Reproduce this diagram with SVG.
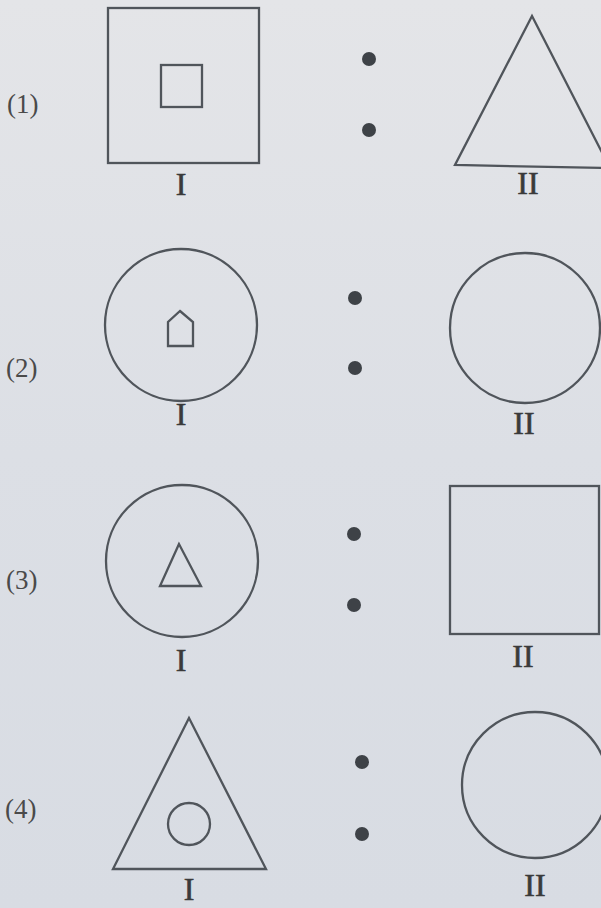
<svg xmlns="http://www.w3.org/2000/svg" width="601" height="908" viewBox="0 0 601 908">
<defs>
<linearGradient id="bg" x1="0" y1="0" x2="0" y2="1">
<stop offset="0" stop-color="#e4e5e8"/>
<stop offset="0.5" stop-color="#dcdfe5"/>
<stop offset="1" stop-color="#d8dce3"/>
</linearGradient>
<style>
.s{fill:none;stroke:#50555b;stroke-width:2.3}
.d{fill:#3e4247}
.n{font-family:"Liberation Serif",serif;font-size:27px;fill:#4a4a4a}
.l{font-family:"Liberation Serif",serif;font-size:32px;fill:#3a3a3a;stroke:#3a3a3a;stroke-width:0.6;text-anchor:middle}
</style>
</defs>
<rect width="601" height="908" fill="url(#bg)"/>
<g id="row1">
<text class="n" x="7" y="113">(1)</text>
<g id="r1-I"><rect class="s" x="108" y="8" width="151" height="155"/><rect class="s" x="161" y="65" width="41" height="42"/><text class="l" x="181" y="195">I</text></g>
<g id="r1-dots"><circle class="d" cx="369" cy="59" r="7"/><circle class="d" cx="369" cy="130" r="7"/></g>
<g id="r1-II"><polygon class="s" points="532,16 455,165 610,168"/><text class="l" x="528" y="194">II</text></g>
</g>
<g id="row2">
<text class="n" x="6" y="377">(2)</text>
<g id="r2-I"><circle class="s" cx="181" cy="325" r="76"/><polygon class="s" points="180,311 193,322 193,346 168,346 168,322"/><text class="l" x="181" y="425">I</text></g>
<g id="r2-dots"><circle class="d" cx="355" cy="298" r="7"/><circle class="d" cx="355" cy="368" r="7"/></g>
<g id="r2-II"><circle class="s" cx="525" cy="328" r="75"/><text class="l" x="524" y="434">II</text></g>
</g>
<g id="row3">
<text class="n" x="6" y="589">(3)</text>
<g id="r3-I"><circle class="s" cx="182" cy="561" r="76"/><polygon class="s" points="179,544 160,586 201,586"/><text class="l" x="181" y="671">I</text></g>
<g id="r3-dots"><circle class="d" cx="354" cy="534" r="7"/><circle class="d" cx="354" cy="605" r="7"/></g>
<g id="r3-II"><rect class="s" x="450" y="486" width="149" height="148"/><text class="l" x="523" y="667">II</text></g>
</g>
<g id="row4">
<text class="n" x="5" y="818">(4)</text>
<g id="r4-I"><polygon class="s" points="189,718 113,869 266,869"/><circle class="s" cx="189" cy="824" r="21"/><text class="l" x="189" y="900">I</text></g>
<g id="r4-dots"><circle class="d" cx="362" cy="762" r="7"/><circle class="d" cx="362" cy="834" r="7"/></g>
<g id="r4-II"><circle class="s" cx="535" cy="785" r="73"/><text class="l" x="535" y="896">II</text></g>
</g>
<g id="connectors"></g>
</svg>
